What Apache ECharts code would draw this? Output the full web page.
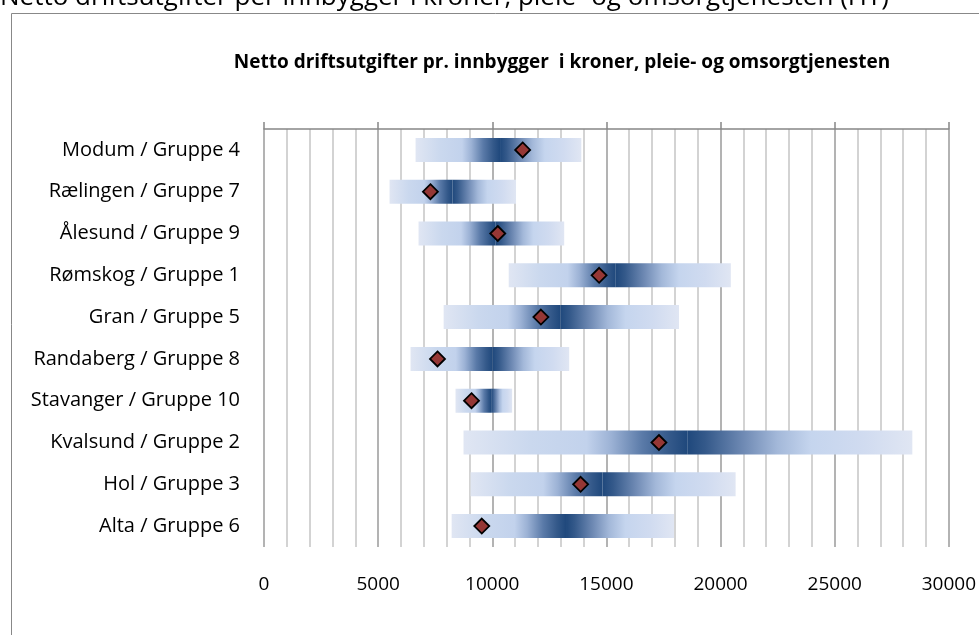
<!DOCTYPE html>
<html>
<head>
<meta charset="utf-8">
<script src="https://cdn.jsdelivr.net/npm/echarts@6/dist/echarts.min.js"></script>
<style>
html,body{margin:0;padding:0;background:#fff;}
#chart{width:979px;height:635px;}
</style>
</head>
<body>
<div id="chart"></div>
<script>
var categories = [
  'Modum / Gruppe 4',
  'Rælingen / Gruppe 7',
  'Ålesund / Gruppe 9',
  'Rømskog / Gruppe 1',
  'Gran / Gruppe 5',
  'Randaberg / Gruppe 8',
  'Stavanger / Gruppe 10',
  'Kvalsund / Gruppe 2',
  'Hol / Gruppe 3',
  'Alta / Gruppe 6'
];
// group minimum, group average (dark centre), group maximum, municipality value
var minVals    = [6640, 5500, 6770, 10720, 7870, 6420, 8390, 8740, 9050, 8220];
var centerVals = [10340, 8260, 10150, 15410, 12980, 10020, 9950, 18540, 14830, 13230];
var maxVals    = [13900, 11040, 13150, 20450, 18180, 13370, 10870, 28400, 20660, 17960];
var kommuneVals = [11330, 7290, 10240, 14680, 12130, 7600, 9090, 17300, 13870, 9540];
var xTicks = [0, 5000, 10000, 15000, 20000, 25000, 30000];

var FONT = '"Open Sans", "Liberation Sans", sans-serif';

var lowSeg = minVals.map(function(m, i){ return centerVals[i] - m; });
var highSeg = maxVals.map(function(m, i){ return m - centerVals[i]; });

var gradLow = new echarts.graphic.LinearGradient(0, 0, 1, 0, [
  {offset: 0, color: '#e0e6f3'},
  {offset: 0.3, color: '#cad8ee'},
  {offset: 0.55, color: '#c2d2ec'},
  {offset: 0.66, color: '#9cb2d5'},
  {offset: 0.8, color: '#5a7aa8'},
  {offset: 0.92, color: '#34598a'},
  {offset: 1, color: '#1f487c'}
]);
var gradHigh = new echarts.graphic.LinearGradient(0, 0, 1, 0, [
  {offset: 0, color: '#1f487c'},
  {offset: 0.08, color: '#34598a'},
  {offset: 0.25, color: '#6f8ab4'},
  {offset: 0.4, color: '#a3b8d9'},
  {offset: 0.55, color: '#c5d5ee'},
  {offset: 0.78, color: '#d0dbf0'},
  {offset: 1, color: '#e0e6f3'}
]);

var chart = echarts.init(document.getElementById('chart'), null, {renderer: 'canvas'});
chart.setOption({
  animation: false,
  backgroundColor: '#fff',
  graphic: [
    {type: 'rect', shape: {x: 11.5, y: 13.5, width: 1200, height: 800},
     style: {fill: 'none', stroke: '#888', lineWidth: 1}, z: -1},
    {type: 'text', x: 0, y: 11,
     style: {text: 'Netto driftsutgifter per innbygger i kroner, pleie- og omsorgtjenesten (HT)',
       font: '26px ' + FONT, fill: '#000', verticalAlign: 'bottom', align: 'left'}},
    {type: 'text', x: 562, y: 63,
     style: {text: 'Netto driftsutgifter pr. innbygger  i kroner, pleie- og omsorgtjenesten',
       font: 'bold 19px ' + FONT, fill: '#000', verticalAlign: 'middle', align: 'center'}}
  ],
  grid: {left: 264, right: 28.5, top: 129, bottom: 88, containLabel: false},
  xAxis: [
    {
      type: 'value', position: 'bottom', min: 0, max: 30000, interval: 1000,
      axisLine: {show: false}, axisTick: {show: false},
      axisLabel: {
        margin: 28, fontSize: 19, fontFamily: FONT, color: '#000',
        formatter: function(v){ return xTicks.indexOf(v) >= 0 ? String(v) : ''; }
      },
      splitLine: {show: true, lineStyle: {width: 1.5, color: ['#9a9a9a', '#c4c4c4', '#c4c4c4', '#c4c4c4', '#c4c4c4']}}
    },
    {
      type: 'value', position: 'top', min: 0, max: 30000, interval: 5000,
      axisLine: {show: true, lineStyle: {color: '#868686', width: 1.5}},
      axisTick: {show: true, length: 7, lineStyle: {color: '#868686', width: 1.5}},
      axisLabel: {show: false},
      splitLine: {show: false}
    }
  ],
  yAxis: {
    type: 'category', data: categories, inverse: true,
    axisLine: {show: false}, axisTick: {show: false},
    axisLabel: {margin: 24, fontSize: 20, fontFamily: FONT, color: '#000'},
    splitLine: {show: false}
  },
  series: [
    {type: 'bar', stack: 'r', data: minVals, barWidth: 24,
     itemStyle: {color: 'rgba(0,0,0,0)'}, silent: true},
    {type: 'bar', stack: 'r', data: lowSeg, barWidth: 24,
     itemStyle: {color: gradLow}},
    {type: 'bar', stack: 'r', data: highSeg, barWidth: 24,
     itemStyle: {color: gradHigh}},
    {type: 'scatter', symbol: 'diamond', symbolSize: [15, 15], z: 5,
     data: kommuneVals.map(function(v, i){ return [v, categories[i]]; }),
     itemStyle: {color: '#953735', borderColor: '#000', borderWidth: 1.8, opacity: 1}}
  ]
});
</script>
</body>
</html>
